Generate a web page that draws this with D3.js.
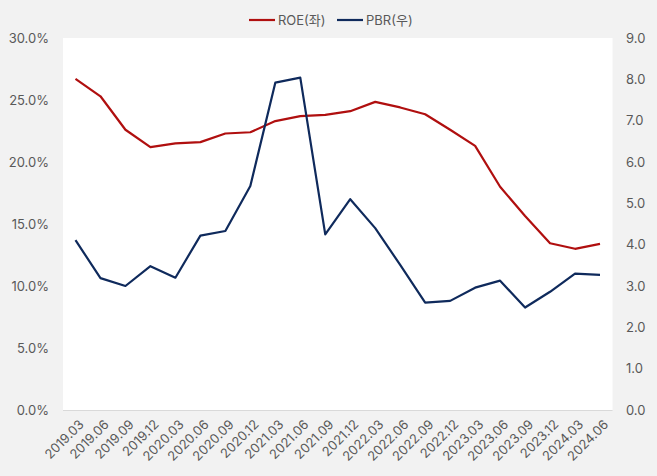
<!DOCTYPE html>
<html><head><meta charset="utf-8">
<script src="https://cdn.jsdelivr.net/npm/d3@7"></script>
<style>
html,body{margin:0;padding:0;background:#f2f2f2;}
svg{display:block;font-family:Inter,"Noto Sans CJK KR",sans-serif;}
</style></head><body>
<svg id="c" width="657" height="476"></svg>
<script>
const categories = ["2019.03","2019.06","2019.09","2019.12","2020.03","2020.06","2020.09","2020.12","2021.03","2021.06","2021.09","2021.12","2022.03","2022.06","2022.09","2022.12","2023.03","2023.06","2023.09","2023.12","2024.03","2024.06"];
const roe = [26.7,25.3,22.6,21.2,21.5,21.6,22.3,22.4,23.3,23.7,23.8,24.1,24.85,24.4,23.85,22.6,21.3,18.0,15.65,13.45,13.0,13.4];
const pbr = [4.11,3.19,3.0,3.48,3.2,4.22,4.33,5.42,7.92,8.04,4.25,5.1,4.4,3.51,2.6,2.64,2.96,3.13,2.48,2.86,3.3,3.27];
const leftTicks = [0,5,10,15,20,25,30];
const rightTicks = [0,1,2,3,4,5,6,7,8,9];
const seriesNames = ["ROE(좌)","PBR(우)"];
const colors = ["#b00f0f","#0f2a5c"];

const svg = d3.select("#c");
const L = 63, R = 612.5, T = 38, B = 410;
svg.append("rect").attr("x",L).attr("y",T).attr("width",R-L).attr("height",B-T).attr("fill","#ffffff");

const x = d3.scaleBand().domain(categories).range([L,R]);
const yL = d3.scaleLinear().domain([0,30]).range([B,T]);
const yR = d3.scaleLinear().domain([0,9]).range([B,T]);
const cx = d => x(d) + x.bandwidth()/2;

// bottom axis line
svg.append("line").attr("x1",L).attr("x2",R).attr("y1",B+0.5).attr("y2",B+0.5).attr("stroke","#d9d9d9").attr("stroke-width",1);

const lab = {fill:"#595959", size:"13px"};
svg.append("g").selectAll("text").data(leftTicks).join("text")
  .attr("x",49).attr("y",d=>yL(d)).attr("dy","0.35em").attr("text-anchor","end")
  .attr("fill",lab.fill).attr("font-size",lab.size).text(d=>d.toFixed(1)+"%");
svg.append("g").selectAll("text").data(rightTicks).join("text")
  .attr("x",626).attr("y",d=>yR(d)).attr("dy","0.35em").attr("text-anchor","start")
  .attr("fill",lab.fill).attr("font-size",lab.size).text(d=>d.toFixed(1));

svg.append("g").selectAll("text").data(categories).join("text")
  .attr("transform",d=>`translate(${cx(d)+6},${B+12}) rotate(-45)`)
  .attr("text-anchor","end").attr("dy","0.35em")
  .attr("fill",lab.fill).attr("font-size",lab.size).text(d=>d);

const line1 = d3.line().x((d,i)=>cx(categories[i])).y(d=>yL(d));
const line2 = d3.line().x((d,i)=>cx(categories[i])).y(d=>yR(d));
svg.append("path").attr("d",line1(roe)).attr("fill","none").attr("stroke",colors[0]).attr("stroke-width",2.2).attr("stroke-linejoin","round");
svg.append("path").attr("d",line2(pbr)).attr("fill","none").attr("stroke",colors[1]).attr("stroke-width",2.2).attr("stroke-linejoin","round");

// legend
const lg = svg.append("g");
const lx = [249,337];
seriesNames.forEach((n,i)=>{
  lg.append("line").attr("x1",lx[i]).attr("x2",lx[i]+26).attr("y1",20).attr("y2",20).attr("stroke",colors[i]).attr("stroke-width",2.2);
  lg.append("text").attr("x",lx[i]+29).attr("y",20).attr("dy","0.35em").attr("fill","#595959").attr("font-size","13px").text(n);
});
</script>
</body></html>
